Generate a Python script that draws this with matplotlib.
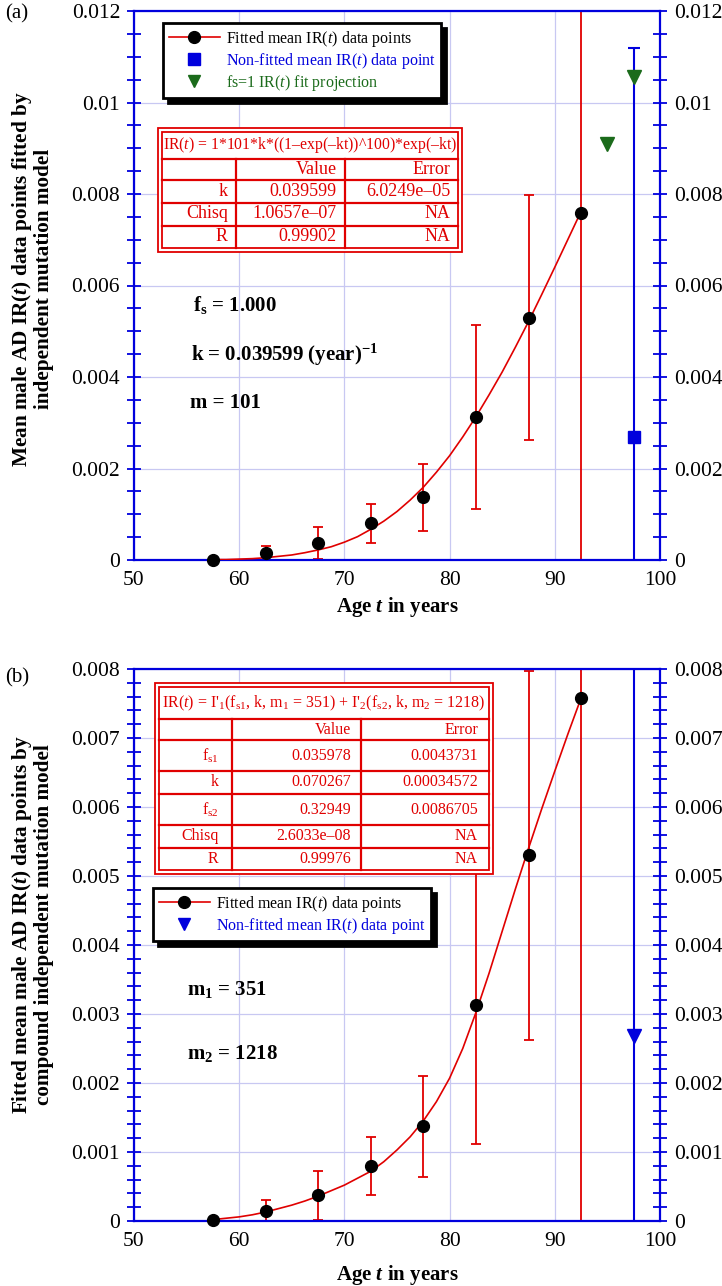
import matplotlib
matplotlib.use('Agg')
import matplotlib.pyplot as plt
from matplotlib.lines import Line2D
from matplotlib.patches import Rectangle
from matplotlib.ticker import MultipleLocator, FuncFormatter

plt.rcParams['font.family'] = ['Liberation Serif', 'DejaVu Serif']
plt.rcParams['mathtext.fontset'] = 'custom'
plt.rcParams['mathtext.rm'] = 'Liberation Serif'
plt.rcParams['mathtext.it'] = 'Liberation Serif:italic'
plt.rcParams['mathtext.bf'] = 'Liberation Serif:bold'
plt.rcParams['mathtext.bfit'] = 'Liberation Serif:italic:bold'

# mean IR(t) data points (shared by both panels)
ages = [57.5, 62.5, 67.5, 72.5, 77.5, 82.5, 87.5, 92.5]
mean_ir = [0.00001, 0.00015, 0.00038, 0.00080, 0.00137, 0.00313, 0.00530, 0.00758]
ir_low = [0.0, 0.0, 0.00002, 0.00038, 0.00064, 0.00112, 0.00263, -0.01]
ir_high = [0.00002, 0.00031, 0.00072, 0.00122, 0.00210, 0.00513, 0.00797, 0.03]

# non-fitted point
nonfit_age = [97.5]
nonfit_ir = [0.00268]
nonfit_low = [-0.01]
nonfit_high = [0.01119]

# fs=1 fit projection (panel a)
proj_ages = [95.0, 97.5]
proj_ir = [0.00909, 0.01055]

# fitted curves
fit_ages = [57.5, 58.75, 60, 61.25, 62.5, 63.75, 65, 66.25, 67.5, 68.75, 70, 71.25,
            72.5, 73.75, 75, 76.25, 77.5, 78.75, 80, 81.25, 82.5, 83.75, 85, 86.25,
            87.5, 88.75, 90, 91.25, 92.5]
fit_a = [0.00001, 0.00001, 0.00002, 0.00003, 0.00005, 0.00008, 0.00011, 0.00016,
         0.00022, 0.00029, 0.00039, 0.00051, 0.00067, 0.00085, 0.00106, 0.00131,
         0.00159, 0.00192, 0.00228, 0.00269, 0.00313, 0.00361, 0.00411, 0.00465,
         0.00521, 0.00580, 0.00640, 0.00701, 0.00762]
fit_b = [0.00002, 0.00004, 0.00006, 0.00009, 0.00013, 0.00018, 0.00023, 0.00029,
         0.00036, 0.00044, 0.00052, 0.00062, 0.00072, 0.00086, 0.00103, 0.00122,
         0.00145, 0.00173, 0.00207, 0.00250, 0.00302, 0.00359, 0.00420, 0.00481,
         0.00540, 0.00597, 0.00652, 0.00706, 0.00758]

legend_a_labels = ['Fitted mean IR($t$) data points', 'Non-fitted mean IR($t$) data point',
                   'fs=1 IR($t$) fit projection']
legend_b_labels = ['Fitted mean IR($t$) data points', 'Non-fitted mean IR($t$) data point']

tab_a_header = 'IR($t$) = 1*101*k*((1–exp(–kt))^100)*exp(–kt)'
tab_a_rows = [('', 'Value', 'Error'),
              ('k', '0.039599', '6.0249e–05'),
              ('Chisq', '1.0657e–07', 'NA'),
              ('R', '0.99902', 'NA')]

tab_b_header = (r"IR($t$) = I'$_1$(f$_{\mathrm{s1}}$, k, m$_1$ = 351) + "
                r"I'$_2$(f$_{\mathrm{s2}}$, k, m$_2$ = 1218)")
tab_b_rows = [('', 'Value', 'Error'),
              (r'f$_{\mathrm{s1}}$', '0.035978', '0.0043731'),
              ('k', '0.070267', '0.00034572'),
              (r'f$_{\mathrm{s2}}$', '0.32949', '0.0086705'),
              ('Chisq', '2.6033e–08', 'NA'),
              ('R', '0.99976', 'NA')]

RED = '#e00000'
BLUE = '#0000dd'
GREEN = '#1b6b1b'
GRID = '#c8c8f2'
W, H = 722, 1286


def fx(x):
    return x / W


def fy(y):
    return 1 - y / H


fig = plt.figure(figsize=(W / 100, H / 100), dpi=100)
ax_a = fig.add_axes([fx(134), fy(560), fx(660) - fx(134), fy(11) - fy(560)])
ax_b = fig.add_axes([fx(134), fy(1221), fx(660) - fx(134), fy(669) - fy(1221)])


def style_axes(ax, ymax, major, minor):
    ax.set_xlim(50, 100)
    ax.set_ylim(0, ymax)
    ax.xaxis.set_major_locator(MultipleLocator(10))
    ax.yaxis.set_major_locator(MultipleLocator(major))
    ax.yaxis.set_minor_locator(MultipleLocator(minor))
    ax.yaxis.set_major_formatter(FuncFormatter(lambda v, p: '%g' % round(v, 6)))
    ax.set_axisbelow(True)
    ax.grid(True, which='major', color=GRID, lw=0.9)
    for s in ax.spines.values():
        s.set_color(BLUE)
        s.set_linewidth(1.6)
    ax.tick_params(axis='y', which='both', direction='inout', length=10, width=1.3,
                   color=BLUE, left=True, right=True, labelleft=True, labelright=True,
                   labelsize=15.5, pad=5)
    ax.tick_params(axis='x', which='both', length=0, labelsize=15.5, pad=8)


def draw_points(ax, curve):
    yerr = [[m - lo for m, lo in zip(mean_ir, ir_low)],
            [hi - m for m, hi in zip(mean_ir, ir_high)]]
    ax.errorbar(ages, mean_ir, yerr=yerr, fmt='none', ecolor=RED, elinewidth=1.3,
                capsize=3.5, capthick=1.3, zorder=2)
    ax.plot(fit_ages, curve, color=RED, lw=1.2, zorder=3)
    ax.plot(ages, mean_ir, 'o', color='k', ms=8.5, zorder=4, clip_on=False)


def draw_table(x0, y0, x1, y1, hlines, vlines, header, rows, col_x, fs_head, fs_body):
    fig.add_artist(Rectangle((fx(x0), fy(y1)), fx(x1) - fx(x0), fy(y0) - fy(y1),
                             transform=fig.transFigure, fc='white', ec=RED, lw=1.3, zorder=5))
    fig.add_artist(Rectangle((fx(x0 + 4), fy(y1 - 4)), fx(x1 - 4) - fx(x0 + 4),
                             fy(y0 + 4) - fy(y1 - 4), transform=fig.transFigure,
                             fc='none', ec=RED, lw=1.3, zorder=6))
    for y in hlines:
        fig.add_artist(Line2D([fx(x0 + 4), fx(x1 - 4)], [fy(y), fy(y)],
                              transform=fig.transFigure, color=RED, lw=1.6, zorder=6))
    for x in vlines:
        fig.add_artist(Line2D([fx(x), fx(x)], [fy(hlines[0]), fy(y1 - 4)],
                              transform=fig.transFigure, color=RED, lw=1.6, zorder=6))
    fig.text(fx((x0 + x1) / 2), fy((y0 + 4 + hlines[0]) / 2), header, color=RED,
             fontsize=fs_head, ha='center', va='center', zorder=7)
    edges = list(hlines) + [y1 - 4]
    for i, row in enumerate(rows):
        yc = (edges[i] + edges[i + 1]) / 2
        for txt, x in zip(row, col_x):
            fig.text(fx(x), fy(yc), txt, color=RED, fontsize=fs_body,
                     ha='right', va='center', zorder=7)


# ---- panel (a) ----
style_axes(ax_a, 0.012, 0.002, 0.0005)
draw_points(ax_a, fit_a)
ax_a.errorbar(nonfit_age, nonfit_ir, yerr=[[nonfit_ir[0] - nonfit_low[0]], [nonfit_high[0] - nonfit_ir[0]]],
              fmt='s', color=BLUE, ms=8, elinewidth=1.5, capsize=4, capthick=1.5, zorder=4)
ax_a.plot(proj_ages, proj_ir, 'v', color=GREEN, ms=10, ls='none', zorder=4)

handles_a = [Line2D([], [], color=RED, lw=1.2, marker='o', ms=8.5, mfc='k', mec='k'),
             Line2D([], [], ls='none', marker='s', ms=8, color=BLUE),
             Line2D([], [], ls='none', marker='v', ms=9, color=GREEN)]
leg = ax_a.legend(handles_a, legend_a_labels, loc='upper left', bbox_to_anchor=(0.055, 0.978),
                  borderaxespad=0, fontsize=11.5, fancybox=False, framealpha=1, edgecolor='k',
                  shadow={'color': 'k', 'alpha': 1, 'ox': 3.5, 'oy': -3.5},
                  handlelength=3.2, handletextpad=0.4, borderpad=0.35, labelspacing=0.12)
leg.get_frame().set_linewidth(2)
for t, c in zip(leg.get_texts(), ['k', BLUE, GREEN]):
    t.set_color(c)

ax_a.text(0.112, 0.4645, r'f$_\mathbf{s}$ = 1.000', transform=ax_a.transAxes,
          fontsize=15, fontweight='bold', va='center')
ax_a.text(0.108, 0.3735, r'k = 0.039599 (year)$^{\mathbf{-1}}$', transform=ax_a.transAxes,
          fontsize=15, fontweight='bold', va='center')
ax_a.text(0.1065, 0.2854, 'm = 101', transform=ax_a.transAxes,
          fontsize=15, fontweight='bold', va='center')

draw_table(158, 128, 462, 252, [158.5, 179.5, 202.5, 225.5], [236, 344.5],
           tab_a_header, tab_a_rows, [228, 336.5, 450.5], 11.3, 13)

fig.text(fx(5), fy(14), '(a)', fontsize=15, va='center')
fig.text(fx(32), fy(279), 'Mean male AD IR($\\mathbfit{t}$) data points fitted by\n'
         'independent mutation model', rotation=90, ha='center', va='center',
         fontsize=15.3, fontweight='bold', linespacing=1.0)
fig.text(fx(397), fy(607), r'Age $\mathbfit{t}$ in years', ha='center', va='center',
         fontsize=15, fontweight='bold')

# ---- panel (b) ----
style_axes(ax_b, 0.008, 0.001, 0.0002)
draw_points(ax_b, fit_b)
ax_b.errorbar(nonfit_age, nonfit_ir, yerr=[[nonfit_ir[0] - nonfit_low[0]], [nonfit_high[0] - nonfit_ir[0]]],
              fmt='v', color=BLUE, ms=10, elinewidth=1.5, capsize=4, capthick=1.5, zorder=4)

handles_b = [Line2D([], [], color=RED, lw=1.2, marker='o', ms=8.5, mfc='k', mec='k'),
             Line2D([], [], ls='none', marker='v', ms=9, color=BLUE)]
leg = ax_b.legend(handles_b, legend_b_labels, loc='upper left', bbox_to_anchor=(0.036, 0.603),
                  borderaxespad=0, fontsize=11.5, fancybox=False, framealpha=1, edgecolor='k',
                  shadow={'color': 'k', 'alpha': 1, 'ox': 3.5, 'oy': -3.5},
                  handlelength=3.2, handletextpad=0.4, borderpad=0.35, labelspacing=0.12)
leg.get_frame().set_linewidth(2)
for t, c in zip(leg.get_texts(), ['k', BLUE]):
    t.set_color(c)

ax_b.text(0.101, 0.4185, r'm$_\mathbf{1}$ = 351', transform=ax_b.transAxes,
          fontsize=15, fontweight='bold', va='center')
ax_b.text(0.101, 0.3038, r'm$_\mathbf{2}$ = 1218', transform=ax_b.transAxes,
          fontsize=15, fontweight='bold', va='center')

draw_table(155, 683, 493, 874, [719, 740, 771, 794, 825, 848], [232.5, 360.5],
           tab_b_header, tab_b_rows, [218.5, 351, 478], 11.5, 11.5)

fig.text(fx(5), fy(678), '(b)', fontsize=15, va='center')
fig.text(fx(32), fy(925), 'Fitted mean male AD IR($\\mathbfit{t}$) data points by\n'
         'compound independent mutation model', rotation=90, ha='center', va='center',
         fontsize=15.3, fontweight='bold', linespacing=1.0)
fig.text(fx(397), fy(1275), r'Age $\mathbfit{t}$ in years', ha='center', va='center',
         fontsize=15, fontweight='bold')

fig.savefig('out.png', dpi=100)
